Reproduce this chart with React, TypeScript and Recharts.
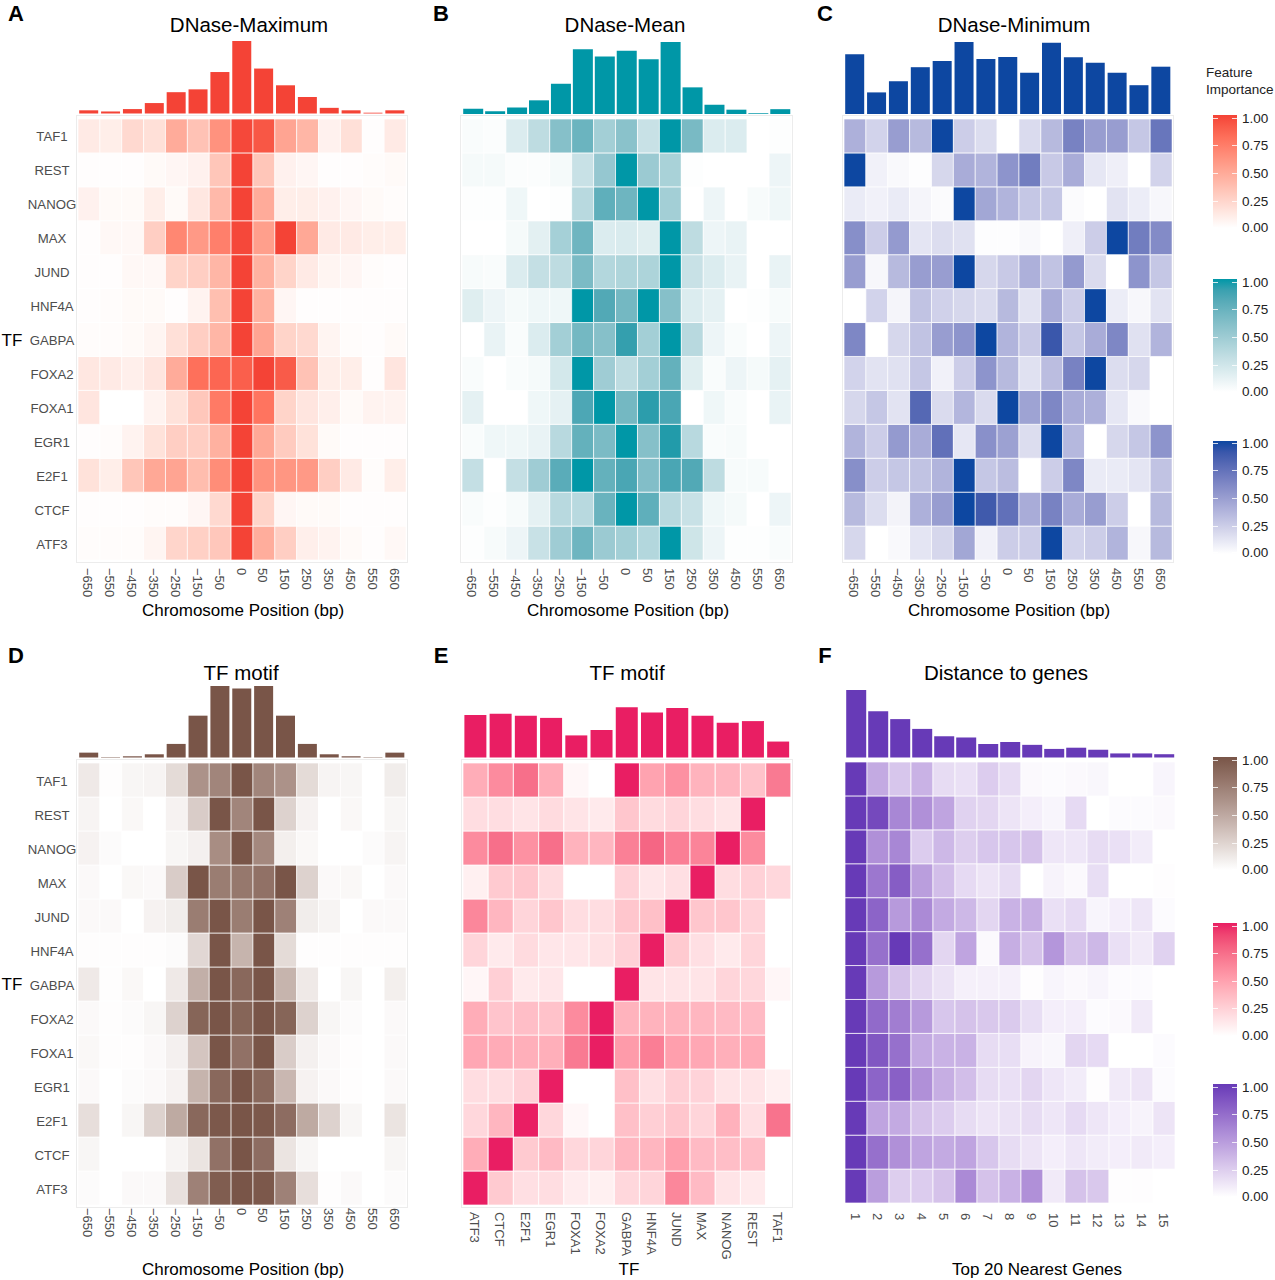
import { BarChart, Bar, Cell, XAxis, YAxis } from "recharts";

const FONT = '"Liberation Sans", Arial, sans-serif';

const TF_ROWS = ["TAF1", "REST", "NANOG", "MAX", "JUND", "HNF4A", "GABPA", "FOXA2", "FOXA1", "EGR1", "E2F1", "CTCF", "ATF3"];
const POSITIONS = ["−650", "−550", "−450", "−350", "−250", "−150", "−50", "0", "50", "150", "250", "350", "450", "550", "650"];
const TF_COLUMNS = ["ATF3", "CTCF", "E2F1", "EGR1", "FOXA1", "FOXA2", "GABPA", "HNF4A", "JUND", "MAX", "NANOG", "REST", "TAF1"];
const GENES = ["1", "2", "3", "4", "5", "6", "7", "8", "9", "10", "11", "12", "13", "14", "15"];
const LEGEND_TICKS = ["1.00", "0.75", "0.50", "0.25", "0.00"];

const MAX_BARS = [0.044, 0.028, 0.061, 0.144, 0.294, 0.333, 0.572, 1, 0.62, 0.389, 0.228, 0.078, 0.044, 0.011, 0.044];
const MAX_HEAT = [
  [0.12, 0.1, 0.22, 0.18, 0.48, 0.35, 0.62, 0.98, 0.92, 0.52, 0.42, 0.08, 0.18, 0.01, 0.12],
  [0.01, 0.01, 0.01, 0.03, 0.05, 0.08, 0.33, 1, 0.33, 0.08, 0.05, 0.01, 0.01, 0.02, 0.03],
  [0.08, 0.03, 0.03, 0.1, 0.03, 0.14, 0.4, 1, 0.48, 0.1, 0.1, 0.08, 0.05, 0.03, 0.02],
  [0.01, 0.04, 0.04, 0.28, 0.68, 0.58, 0.72, 0.98, 0.55, 1, 0.5, 0.12, 0.12, 0.1, 0.1],
  [0.01, 0.01, 0.04, 0.04, 0.25, 0.28, 0.42, 1, 0.45, 0.25, 0.12, 0.06, 0.05, 0.02, 0.01],
  [0.01, 0.02, 0.03, 0.03, 0.01, 0.07, 0.37, 1, 0.45, 0.05, 0.01, 0.01, 0.01, 0.01, 0.01],
  [0.02, 0.02, 0.03, 0.06, 0.18, 0.28, 0.42, 1, 0.52, 0.25, 0.22, 0.06, 0.02, 0.01, 0.03],
  [0.14, 0.12, 0.09, 0.15, 0.48, 0.8, 0.85, 0.88, 1, 0.9, 0.35, 0.1, 0.1, 0.01, 0.15],
  [0.15, 0, 0, 0.07, 0.17, 0.32, 0.75, 1, 0.78, 0.25, 0.15, 0.09, 0.03, 0.07, 0.07],
  [0.01, 0.02, 0.07, 0.17, 0.28, 0.28, 0.45, 1, 0.5, 0.3, 0.17, 0.03, 0.01, 0.01, 0.01],
  [0.17, 0.1, 0.33, 0.5, 0.52, 0.38, 0.65, 1, 0.62, 0.6, 0.58, 0.28, 0.12, 0.02, 0.1],
  [0.01, 0.01, 0.01, 0.02, 0.02, 0.05, 0.22, 1, 0.25, 0.05, 0.03, 0.03, 0.01, 0.01, 0.01],
  [0.02, 0.02, 0.02, 0.06, 0.24, 0.27, 0.32, 1, 0.47, 0.28, 0.09, 0.07, 0.03, 0.01, 0.04],
];

const MEAN_BARS = [0.073, 0.039, 0.09, 0.19, 0.42, 0.9, 0.8, 0.88, 0.76, 1, 0.37, 0.13, 0.06, 0.01, 0.067];
const MEAN_HEAT = [
  [0.03, 0.02, 0.18, 0.33, 0.6, 0.72, 0.46, 0.58, 0.28, 1, 0.66, 0.18, 0.18, 0, 0.01],
  [0.05, 0.05, 0.02, 0.02, 0.05, 0.28, 0.53, 1, 0.5, 0.43, 0.01, 0, 0, 0, 0.09],
  [0.01, 0.01, 0.08, 0, 0.01, 0.36, 0.77, 0.71, 1, 0.46, 0, 0.09, 0, 0.04, 0.08],
  [0, 0, 0.05, 0.14, 0.45, 0.71, 0.18, 0.19, 0.16, 1, 0.33, 0.09, 0.11, 0, 0],
  [0.04, 0.03, 0.18, 0.3, 0.33, 0.65, 0.38, 0.4, 0.41, 1, 0.28, 0.18, 0.11, 0, 0.11],
  [0.16, 0.09, 0.05, 0.08, 0.08, 1, 0.82, 0.68, 1, 0.6, 0.18, 0.13, 0, 0.01, 0.04],
  [0, 0.11, 0.03, 0.18, 0.46, 0.68, 0.6, 0.92, 0.46, 1, 0.36, 0.09, 0.03, 0, 0.09],
  [0.03, 0, 0.03, 0.05, 0.22, 1, 0.48, 0.33, 0.46, 0.75, 0.16, 0.03, 0.09, 0.05, 0.13],
  [0.13, 0, 0, 0.08, 0.13, 0.84, 1, 0.68, 0.94, 0.85, 0, 0.08, 0.03, 0, 0.11],
  [0.03, 0.08, 0.08, 0.11, 0.36, 0.75, 0.65, 1, 0.6, 0.96, 0.36, 0.03, 0.04, 0, 0],
  [0.3, 0, 0.3, 0.48, 0.79, 1, 0.75, 0.85, 0.62, 0.85, 0.82, 0.33, 0.04, 0.04, 0],
  [0.03, 0.01, 0.04, 0.13, 0.36, 0.36, 0.73, 1, 0.77, 0.36, 0.28, 0.08, 0.05, 0, 0.09],
  [0.01, 0.04, 0.09, 0.28, 0.48, 0.71, 0.5, 0.46, 0.38, 1, 0.25, 0.09, 0.01, 0.01, 0.03],
];

const MIN_BARS = [0.83, 0.3, 0.455, 0.65, 0.736, 1, 0.764, 0.79, 0.573, 0.989, 0.787, 0.713, 0.573, 0.4, 0.657];
const MIN_HEAT = [
  [0.4, 0.22, 0.5, 0.35, 1, 0.25, 0.17, 0, 0.18, 0.35, 0.65, 0.5, 0.5, 0.28, 0.72],
  [1, 0.07, 0.03, 0.01, 0.2, 0.42, 0.38, 0.55, 0.68, 0.27, 0.42, 0.12, 0.08, 0, 0.22],
  [0.1, 0.07, 0.1, 0.05, 0.02, 1, 0.45, 0.38, 0.28, 0.28, 0.02, 0, 0.14, 0.09, 0.04],
  [0.58, 0.25, 0.52, 0.13, 0.17, 0.15, 0.01, 0.01, 0.03, 0, 0.08, 0.25, 1, 0.68, 0.6],
  [0.5, 0.04, 0.35, 0.5, 0.5, 1, 0.2, 0.27, 0.4, 0.3, 0.52, 0.18, 0, 0.55, 0.28],
  [0, 0.22, 0.05, 0.3, 0.23, 0.2, 0.18, 0.35, 0.14, 0.42, 0.25, 1, 0.09, 0.04, 0.14],
  [0.62, 0, 0.2, 0.3, 0.5, 0.55, 1, 0.38, 0.27, 0.9, 0.28, 0.42, 0.62, 0.15, 0.38],
  [0.22, 0.14, 0.15, 0.28, 0.07, 0.25, 0.55, 0.35, 0.15, 0.33, 0.65, 1, 0.17, 0.2, 0],
  [0.2, 0.28, 0.14, 0.8, 0.18, 0.37, 0.18, 1, 0.47, 0.62, 0.42, 0.4, 0.12, 0.03, 0],
  [0.38, 0.25, 0.52, 0.42, 0.75, 0.12, 0.57, 0.48, 0.17, 1, 0.36, 0, 0.2, 0.28, 0.55],
  [0.58, 0.25, 0.28, 0.3, 0.38, 1, 0.28, 0.33, 0, 0.25, 0.62, 0.1, 0.1, 0.13, 0.3],
  [0.35, 0.17, 0.06, 0.4, 0.5, 1, 0.88, 0.75, 0.42, 0.65, 0.42, 0.5, 0.25, 0, 0.35],
  [0.2, 0, 0.03, 0.13, 0.2, 0.45, 0.07, 0.25, 0.25, 1, 0.22, 0.25, 0.38, 0.04, 0.35],
];

const MOTIF_BARS = [0.068, 0.006, 0.017, 0.045, 0.19, 0.585, 1, 0.966, 1, 0.585, 0.19, 0.045, 0.017, 0.005, 0.068];
const MOTIF_HEAT = [
  [0.12, 0.01, 0.05, 0.06, 0.2, 0.62, 0.7, 1, 0.7, 0.62, 0.2, 0.06, 0.05, 0, 0.1],
  [0.06, 0, 0.04, 0, 0.07, 0.28, 1, 0.7, 1, 0.25, 0.07, 0, 0.04, 0, 0.05],
  [0.07, 0.02, 0, 0, 0.05, 0.08, 0.65, 1, 0.68, 0.09, 0.04, 0, 0, 0.02, 0.06],
  [0.03, 0, 0.04, 0.03, 0.28, 1, 0.75, 0.78, 0.82, 1, 0.25, 0.03, 0.04, 0, 0.03],
  [0.03, 0.03, 0, 0.07, 0.1, 0.75, 1, 0.75, 1, 0.72, 0.1, 0.06, 0, 0.03, 0.03],
  [0.01, 0.01, 0.01, 0.01, 0.02, 0.22, 1, 0.42, 1, 0.2, 0.01, 0.01, 0.01, 0.01, 0.01],
  [0.12, 0.01, 0.04, 0, 0.12, 0.45, 1, 0.88, 1, 0.42, 0.12, 0, 0.05, 0, 0.09],
  [0.03, 0.01, 0.02, 0.05, 0.25, 0.9, 1, 0.9, 1, 0.9, 0.25, 0.05, 0.02, 0, 0.03],
  [0.04, 0.01, 0.01, 0.03, 0.08, 0.32, 1, 0.82, 1, 0.28, 0.08, 0.03, 0.01, 0, 0.03],
  [0.03, 0, 0.02, 0.03, 0.07, 0.42, 0.88, 1, 0.88, 0.4, 0.07, 0.03, 0.01, 0, 0.03],
  [0.18, 0, 0.05, 0.25, 0.48, 0.88, 0.98, 1, 0.98, 0.85, 0.48, 0.25, 0.05, 0, 0.15],
  [0.05, 0, 0, 0, 0.06, 0.15, 0.82, 1, 0.85, 0.15, 0.05, 0, 0, 0, 0.05],
  [0.02, 0, 0.03, 0.03, 0.17, 0.72, 0.95, 1, 0.98, 0.72, 0.18, 0.01, 0.03, 0, 0.02],
];

const TF_BARS = [0.594, 0.611, 0.583, 0.554, 0.309, 0.383, 0.703, 0.629, 0.691, 0.583, 0.486, 0.509, 0.223];
const TF_HEAT = [
  [0.43, 0.6, 0.73, 0.43, 0.04, 0, 1, 0.48, 0.57, 0.4, 0.38, 0.32, 0.68],
  [0.18, 0.18, 0.14, 0.19, 0.14, 0.11, 0.3, 0.19, 0.22, 0.18, 0.14, 1, 0],
  [0.6, 0.73, 0.57, 0.73, 0.4, 0.38, 0.65, 0.77, 0.66, 0.63, 1, 0.6, 0],
  [0.08, 0.28, 0.3, 0.19, 0, 0, 0.24, 0.13, 0.17, 1, 0.18, 0.24, 0.21],
  [0.62, 0.38, 0.22, 0.3, 0.18, 0.18, 0.3, 0.33, 1, 0.3, 0.3, 0.23, 0],
  [0.22, 0.11, 0.19, 0.13, 0.13, 0.16, 0.24, 1, 0.28, 0.17, 0.11, 0.22, 0],
  [0.05, 0.25, 0.11, 0.13, 0, 0, 1, 0.14, 0.14, 0.14, 0.22, 0.21, 0.05],
  [0.43, 0.31, 0.34, 0.32, 0.6, 1, 0.4, 0.4, 0.4, 0.38, 0.36, 0.36, 0],
  [0.46, 0.44, 0.42, 0.42, 0.68, 1, 0.52, 0.66, 0.5, 0.46, 0.42, 0.44, 0],
  [0.18, 0.18, 0.24, 1, 0, 0, 0.33, 0.17, 0.25, 0.23, 0.14, 0.14, 0.08],
  [0.21, 0.38, 1, 0.21, 0.04, 0, 0.33, 0.25, 0.3, 0.22, 0.41, 0.17, 0.71],
  [0.43, 1, 0.28, 0.36, 0.21, 0.22, 0.38, 0.38, 0.5, 0.36, 0.34, 0.34, 0],
  [1, 0.28, 0.17, 0.18, 0.1, 0.08, 0.21, 0.22, 0.62, 0.36, 0.14, 0.11, 0],
];

const GENE_BARS = [0.943, 0.646, 0.537, 0.4, 0.297, 0.28, 0.189, 0.217, 0.177, 0.12, 0.137, 0.109, 0.057, 0.057, 0.046];
const GENE_HEAT = [
  [1, 0.42, 0.28, 0.38, 0.17, 0.15, 0.25, 0.17, 0.03, 0.02, 0.03, 0.04, 0, 0, 0.05],
  [1, 0.92, 0.6, 0.55, 0.45, 0.22, 0.2, 0.13, 0.08, 0.05, 0.18, 0, 0.02, 0.02, 0.03],
  [1, 0.55, 0.6, 0.25, 0.35, 0.24, 0.28, 0.28, 0.3, 0.12, 0.12, 0.17, 0.15, 0.09, 0],
  [1, 0.68, 0.82, 0.48, 0.32, 0.18, 0.13, 0.17, 0, 0.06, 0.03, 0.16, 0, 0, 0.01],
  [1, 0.78, 0.5, 0.58, 0.42, 0.35, 0.2, 0.38, 0.4, 0.15, 0.18, 0.05, 0.08, 0.12, 0.02],
  [1, 0.72, 1, 0.72, 0.2, 0.45, 0.03, 0.4, 0.3, 0.52, 0.3, 0.35, 0.15, 0.1, 0.22],
  [1, 0.5, 0.3, 0.2, 0.14, 0.07, 0.07, 0.07, 0.01, 0.05, 0.03, 0.05, 0.02, 0.02, 0],
  [1, 0.75, 0.65, 0.5, 0.28, 0.3, 0.27, 0.26, 0.16, 0.08, 0.08, 0.02, 0.03, 0.1, 0],
  [1, 0.85, 0.72, 0.42, 0.38, 0.38, 0.17, 0.16, 0.06, 0.04, 0.2, 0.18, 0, 0, 0.02],
  [1, 0.78, 0.8, 0.55, 0.4, 0.32, 0.17, 0.15, 0.2, 0.12, 0.09, 0.01, 0.1, 0.13, 0.02],
  [1, 0.45, 0.42, 0.3, 0.25, 0.17, 0.13, 0.14, 0.17, 0.12, 0.18, 0.12, 0.08, 0.06, 0.13],
  [1, 0.72, 0.55, 0.45, 0.42, 0.45, 0.28, 0.17, 0.13, 0.08, 0.12, 0.09, 0.08, 0.1, 0.08],
  [1, 0.48, 0.24, 0.25, 0.3, 0.58, 0.3, 0.38, 0.55, 0.1, 0.3, 0.27, 0.01, 0.01, 0],
];

const RED = "#f44336";
const TEAL = "#0097a7";
const BLUE = "#0d47a1";
const BROWN = "#795548";
const PINK = "#e91e63";
const PURPLE = "#673ab7";

const PANELS = [
  { letter: "A", letterX: 16, title: "DNase-Maximum", titleX: 249, xTitle: "Chromosome Position (bp)", xTitleX: 243, color: RED, columns: POSITIONS, bars: MAX_BARS, heat: MAX_HEAT, left: 78, right: 406, barTop: 41, barBottom: 113.5, top: 119, bottom: 560, tickShift: 0, showTf: true, border: true },
  { letter: "B", letterX: 441, title: "DNase-Mean", titleX: 625, xTitle: "Chromosome Position (bp)", xTitleX: 628, color: TEAL, columns: POSITIONS, bars: MEAN_BARS, heat: MEAN_HEAT, left: 462, right: 791, barTop: 41.5, barBottom: 113.5, top: 119, bottom: 560, tickShift: 0, showTf: false, border: true },
  { letter: "C", letterX: 825, title: "DNase-Minimum", titleX: 1014, xTitle: "Chromosome Position (bp)", xTitleX: 1009, color: BLUE, columns: POSITIONS, bars: MIN_BARS, heat: MIN_HEAT, left: 844, right: 1172, barTop: 41.5, barBottom: 113.5, top: 119, bottom: 560, tickShift: 0, showTf: false, border: true },
  { letter: "D", letterX: 16, title: "TF motif", titleX: 241, xTitle: "Chromosome Position (bp)", xTitleX: 243, color: BROWN, columns: POSITIONS, bars: MOTIF_BARS, heat: MOTIF_HEAT, left: 78, right: 406, barTop: 686, barBottom: 757.5, top: 763, bottom: 1205, tickShift: -5, showTf: true, border: true },
  { letter: "E", letterX: 441, title: "TF motif", titleX: 627, xTitle: "TF", xTitleX: 629, color: PINK, columns: TF_COLUMNS, bars: TF_BARS, heat: TF_HEAT, left: 463, right: 791, barTop: 686, barBottom: 757.5, top: 763, bottom: 1205, tickShift: -1, showTf: false, border: true },
  { letter: "F", letterX: 825, title: "Distance to genes", titleX: 1006, xTitle: "Top 20 Nearest Genes", xTitleX: 1037, color: PURPLE, columns: GENES, bars: GENE_BARS, heat: GENE_HEAT, left: 845, right: 1175, barTop: 686, barBottom: 757.5, top: 762, bottom: 1203, tickShift: 2, showTf: false, border: false },
];

const LEGENDS = [
  { color: RED, top: 115, labels: [119, 146, 174, 202, 228] },
  { color: TEAL, top: 279, labels: [283, 310, 338, 366, 392] },
  { color: BLUE, top: 441, labels: [444, 471, 499, 527, 553] },
  { color: BROWN, top: 757, labels: [761, 788, 816, 844, 870] },
  { color: PINK, top: 923, labels: [927, 954, 982, 1009, 1036] },
  { color: PURPLE, top: 1084, labels: [1088, 1115, 1143, 1171, 1197] },
];

const ROW_TICKS = TF_ROWS.map((_, i) => i + 0.5);
const Y_AXIS_WIDTH = 76;
const X_AXIS_HEIGHT = 70;

// ggplot mixes its fill gradients in Lab, which is why the mid tones look greyer than plain rgb
function toLab(hex: string) {
  const lin = [1, 3, 5].map((s) => {
    const c = parseInt(hex.slice(s, s + 2), 16) / 255;
    return c > 0.04045 ? Math.pow((c + 0.055) / 1.055, 2.4) : c / 12.92;
  });
  const xyz = [
    (0.4124 * lin[0] + 0.3576 * lin[1] + 0.1805 * lin[2]) / 0.95047,
    0.2126 * lin[0] + 0.7152 * lin[1] + 0.0722 * lin[2],
    (0.0193 * lin[0] + 0.1192 * lin[1] + 0.9505 * lin[2]) / 1.08883,
  ].map((t) => (t > 0.008856 ? Math.cbrt(t) : 7.787 * t + 16 / 116));
  return [116 * xyz[1] - 16, 500 * (xyz[0] - xyz[1]), 200 * (xyz[1] - xyz[2])];
}

function shade(hex: string, v: number) {
  const lab = toLab(hex);
  const L = 100 + (lab[0] - 100) * v;
  const fy = (L + 16) / 116;
  const fx = fy + (lab[1] * v) / 500;
  const fz = fy - (lab[2] * v) / 200;
  const [x, y, z] = [fx, fy, fz].map((f) => (f > 0.2069 ? f * f * f : (f - 16 / 116) / 7.787));
  const X = x * 0.95047;
  const Z = z * 1.08883;
  const rgb = [
    3.2406 * X - 1.5372 * y - 0.4986 * Z,
    -0.9689 * X + 1.8758 * y + 0.0415 * Z,
    0.0557 * X - 0.204 * y + 1.057 * Z,
  ].map((c) => {
    const g = c > 0.0031308 ? 1.055 * Math.pow(c, 1 / 2.4) - 0.055 : 12.92 * c;
    return Math.round(Math.min(1, Math.max(0, g)) * 255);
  });
  return `rgb(${rgb[0]},${rgb[1]},${rgb[2]})`;
}

function Txt({ x, y, size, children, color = "#000", bold = false, align = "center" }: any) {
  return (
    <div
      style={{
        position: "absolute",
        left: x,
        top: y,
        fontSize: size,
        color,
        fontWeight: bold ? 700 : 400,
        whiteSpace: "nowrap",
        lineHeight: 1,
        transform: align === "center" ? "translate(-50%,-50%)" : "translateY(-50%)",
      }}
    >
      {children}
    </div>
  );
}

function RowTick({ x, y, payload }: any) {
  const label = TF_ROWS[TF_ROWS.length - 1 - Math.floor(payload.value)];
  return (
    <text x={x - 18} y={y + 1} textAnchor="middle" dominantBaseline="central" fontSize={13.2} fill="#4d4d4d" fontFamily={FONT}>
      {label}
    </text>
  );
}

function columnTick(shift: number) {
  return function ColumnTick({ x, y, payload }: any) {
    return (
      <text
        transform={`translate(${x - 1},${y + shift}) rotate(90)`}
        textAnchor="start"
        dominantBaseline="central"
        fontSize={13}
        fill="#4d4d4d"
        fontFamily={FONT}
      >
        {payload.value}
      </text>
    );
  };
}

function Panel({ p }: any) {
  const plotWidth = p.right - p.left;
  const barData = p.columns.map((name: string, i: number) => ({ name, value: p.bars[i] }));
  // every cell is one unit tall, its value only sets the colour
  const heatData = p.columns.map((name: string) => {
    const row: any = { name };
    TF_ROWS.forEach((tf) => (row[tf] = 1));
    return row;
  });
  const stackOrder = [...TF_ROWS].reverse();
  const yWidth = p.showTf ? Y_AXIS_WIDTH : 0;
  const lowerRow = p.barTop > 100;

  return (
    <>
      <Txt x={p.letterX} y={lowerRow ? 656 : 14} size={22} bold>
        {p.letter}
      </Txt>
      <Txt x={p.titleX} y={lowerRow ? 673 : 25} size={20.5}>
        {p.title}
      </Txt>
      <Txt x={p.xTitleX} y={lowerRow ? 1269 : 610} size={17}>
        {p.xTitle}
      </Txt>
      {p.showTf && (
        <Txt x={12} y={p.top + 220.5} size={17}>
          TF
        </Txt>
      )}
      {p.border && (
        <div
          style={{
            position: "absolute",
            left: p.left - 2,
            top: p.top - 4,
            width: plotWidth + 4,
            height: p.bottom - p.top + 6.5,
            boxSizing: "border-box",
            border: "1.5px solid #ececec",
          }}
        />
      )}
      <div style={{ position: "absolute", left: p.left, top: p.barTop }}>
        <BarChart
          width={plotWidth}
          height={p.barBottom - p.barTop}
          data={barData}
          margin={{ top: 0, right: 0, bottom: 0, left: 0 }}
          barCategoryGap="5.5%"
        >
          <XAxis dataKey="name" hide />
          <YAxis hide domain={[0, 1]} />
          <Bar dataKey="value" fill={p.color} isAnimationActive={false} />
        </BarChart>
      </div>
      <div style={{ position: "absolute", left: p.left - yWidth, top: p.top }}>
        <BarChart
          width={plotWidth + yWidth}
          height={p.bottom - p.top + X_AXIS_HEIGHT}
          data={heatData}
          margin={{ top: 0, right: 0, bottom: 0, left: 0 }}
          barCategoryGap={0}
        >
          <XAxis dataKey="name" height={X_AXIS_HEIGHT} interval={0} axisLine={false} tickLine={false} tick={columnTick(p.tickShift)} />
          <YAxis
            hide={!p.showTf}
            type="number"
            domain={[0, TF_ROWS.length]}
            ticks={ROW_TICKS}
            interval={0}
            width={Y_AXIS_WIDTH}
            axisLine={false}
            tickLine={false}
            tick={RowTick}
          />
          {stackOrder.map((tf) => (
            <Bar key={tf} dataKey={tf} stackId="cells" isAnimationActive={false} stroke="#fff" strokeWidth={0.7}>
              {p.columns.map((name: string, c: number) => (
                <Cell key={name} fill={shade(p.color, p.heat[TF_ROWS.indexOf(tf)][c])} />
              ))}
            </Bar>
          ))}
        </BarChart>
      </div>
    </>
  );
}

function ColorBar({ l }: any) {
  const stops = [1, 0.9, 0.8, 0.7, 0.6, 0.5, 0.4, 0.3, 0.2, 0.1, 0].map((v) => shade(l.color, v));
  return (
    <>
      <div
        style={{
          position: "absolute",
          left: 1213,
          top: l.top,
          width: 24,
          height: 113,
          background: `linear-gradient(to bottom, ${stops.join(",")})`,
        }}
      />
      {LEGEND_TICKS.map((t, i) => (
        <div key={t}>
          <div style={{ position: "absolute", left: 1213, top: l.labels[i] - 1, width: 5, height: 1, background: "#fff", opacity: 0.8 }} />
          <div style={{ position: "absolute", left: 1232, top: l.labels[i] - 1, width: 5, height: 1, background: "#fff", opacity: 0.8 }} />
          <Txt x={1242} y={l.labels[i]} size={13.5} color="#222" align="left">
            {t}
          </Txt>
        </div>
      ))}
    </>
  );
}

export default function App() {
  return (
    <div style={{ position: "absolute", left: 0, top: 0, width: 1275, height: 1280, background: "#fff", fontFamily: FONT, overflow: "hidden" }}>
      {PANELS.map((p) => (
        <Panel key={p.letter} p={p} />
      ))}
      <Txt x={1206} y={73} size={13.5} color="#222" align="left">
        Feature
      </Txt>
      <Txt x={1206} y={89.5} size={13.5} color="#222" align="left">
        Importance
      </Txt>
      {LEGENDS.map((l) => (
        <ColorBar key={l.top} l={l} />
      ))}
    </div>
  );
}
